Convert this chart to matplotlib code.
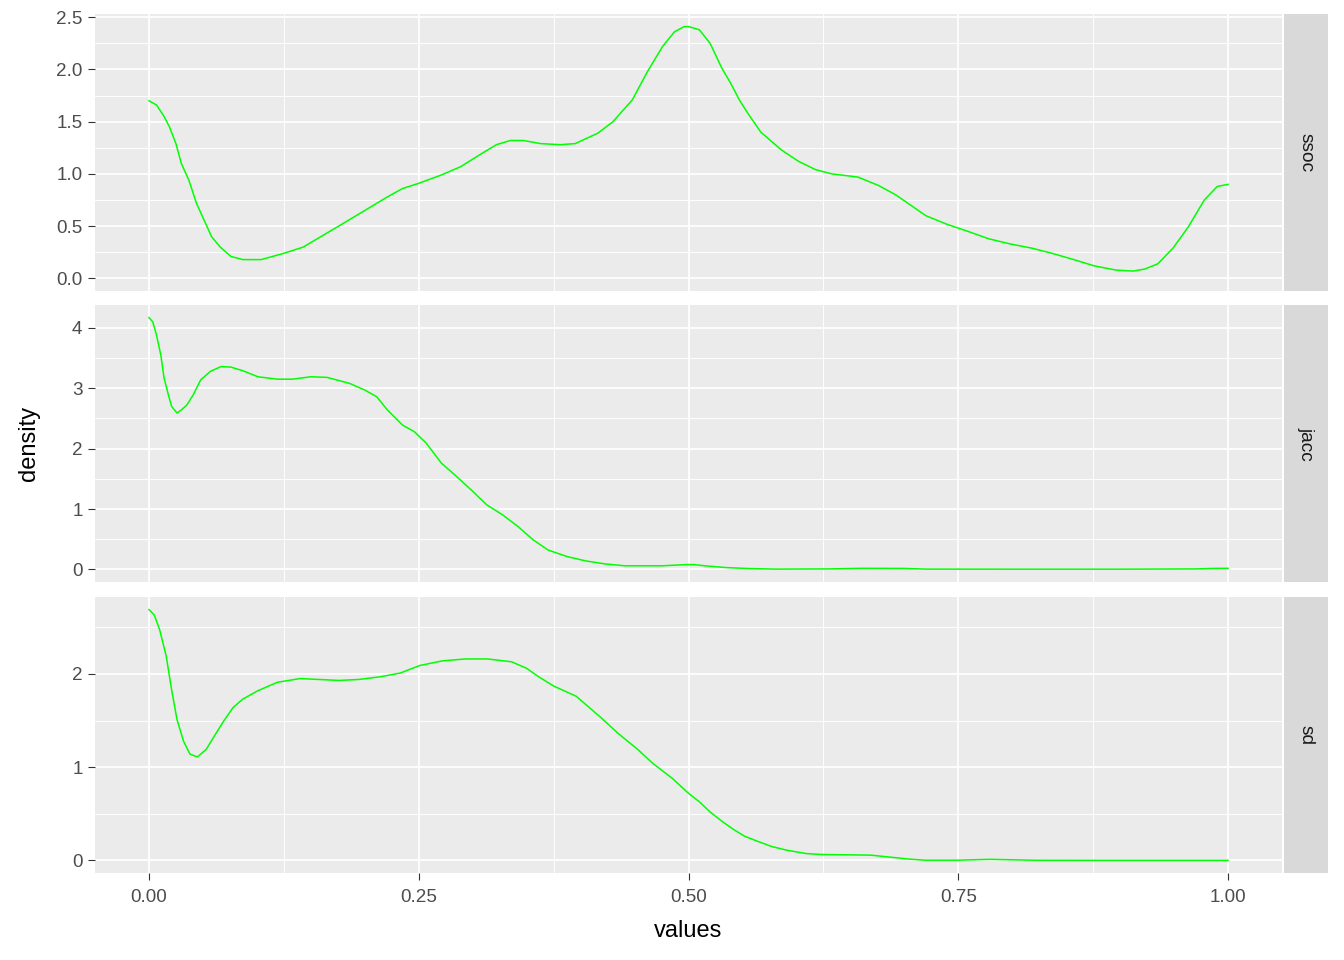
import matplotlib
matplotlib.use("Agg")
import matplotlib.pyplot as plt
from matplotlib.ticker import FixedLocator

plt.rcParams['font.family'] = ['Liberation Sans', 'DejaVu Sans']

# ---------------- data ----------------
panel_names = ["ssoc", "jacc", "sd"]

ssoc_x = [0.000, 0.007, 0.014, 0.019, 0.025, 0.030, 0.037, 0.044, 0.051, 0.058,
          0.066, 0.076, 0.087, 0.104, 0.125, 0.143, 0.161, 0.179, 0.200, 0.221,
          0.235, 0.250, 0.271, 0.289, 0.306, 0.322, 0.335, 0.347, 0.363, 0.381,
          0.395, 0.416, 0.430, 0.448, 0.462, 0.476, 0.487, 0.496, 0.500, 0.510,
          0.520, 0.531, 0.539, 0.547, 0.555, 0.567, 0.586, 0.602, 0.618, 0.633,
          0.657, 0.676, 0.692, 0.706, 0.720, 0.739, 0.759, 0.778, 0.798, 0.818,
          0.837, 0.857, 0.876, 0.896, 0.912, 0.923, 0.935, 0.949, 0.963, 0.978,
          0.990, 1.000]
ssoc_y = [1.70, 1.66, 1.55, 1.45, 1.29, 1.10, 0.94, 0.72, 0.56, 0.40,
          0.30, 0.21, 0.18, 0.18, 0.24, 0.30, 0.41, 0.52, 0.65, 0.78,
          0.86, 0.91, 0.99, 1.07, 1.18, 1.28, 1.32, 1.32, 1.29, 1.28,
          1.29, 1.39, 1.50, 1.71, 1.98, 2.22, 2.36, 2.41, 2.41, 2.38,
          2.25, 2.01, 1.87, 1.71, 1.58, 1.40, 1.23, 1.12, 1.04, 1.00,
          0.97, 0.89, 0.80, 0.70, 0.60, 0.52, 0.45, 0.38, 0.33, 0.29,
          0.24, 0.18, 0.12, 0.08, 0.07, 0.09, 0.14, 0.29, 0.49, 0.75,
          0.88, 0.90]

jacc_x = [0.000, 0.0035, 0.007, 0.011, 0.014, 0.018, 0.021, 0.026, 0.030, 0.035,
          0.041, 0.048, 0.057, 0.067, 0.076, 0.087, 0.101, 0.119, 0.133, 0.150,
          0.165, 0.186, 0.200, 0.211, 0.221, 0.235, 0.246, 0.257, 0.271, 0.285,
          0.299, 0.313, 0.328, 0.342, 0.356, 0.370, 0.388, 0.405, 0.423, 0.441,
          0.476, 0.498, 0.505, 0.515, 0.525, 0.535, 0.555, 0.580, 0.630, 0.660,
          0.700, 0.720, 0.800, 0.900, 0.970, 0.985, 1.000]
jacc_y = [4.17, 4.10, 3.88, 3.55, 3.17, 2.89, 2.70, 2.59, 2.64, 2.72,
          2.89, 3.14, 3.28, 3.36, 3.35, 3.29, 3.19, 3.15, 3.15, 3.19,
          3.18, 3.08, 2.97, 2.86, 2.64, 2.39, 2.28, 2.09, 1.76, 1.54,
          1.31, 1.07, 0.90, 0.71, 0.49, 0.32, 0.21, 0.14, 0.09, 0.06,
          0.06, 0.08, 0.08, 0.06, 0.045, 0.03, 0.015, 0.005, 0.008, 0.018,
          0.016, 0.005, 0.004, 0.004, 0.008, 0.016, 0.018]

sd_x = [0.000, 0.005, 0.010, 0.016, 0.021, 0.026, 0.032, 0.038, 0.045, 0.053,
        0.062, 0.069, 0.078, 0.087, 0.101, 0.119, 0.140, 0.158, 0.176, 0.194,
        0.215, 0.233, 0.251, 0.272, 0.293, 0.314, 0.336, 0.350, 0.361, 0.375,
        0.396, 0.418, 0.435, 0.453, 0.467, 0.485, 0.500, 0.510, 0.520, 0.531,
        0.542, 0.552, 0.563, 0.577, 0.591, 0.609, 0.623, 0.669, 0.683, 0.705,
        0.719, 0.750, 0.779, 0.822, 0.900, 1.000]
sd_y = [2.69, 2.63, 2.47, 2.19, 1.83, 1.51, 1.28, 1.14, 1.11, 1.19,
        1.36, 1.49, 1.64, 1.73, 1.82, 1.91, 1.95, 1.94, 1.93, 1.94,
        1.97, 2.01, 2.09, 2.14, 2.16, 2.16, 2.13, 2.06, 1.97, 1.87,
        1.76, 1.54, 1.36, 1.19, 1.04, 0.88, 0.72, 0.63, 0.52, 0.42,
        0.33, 0.26, 0.21, 0.15, 0.11, 0.074, 0.064, 0.057, 0.04, 0.014,
        0.003, 0.003, 0.012, 0.002, 0.001, 0.001]

x_ticks = [0.0, 0.25, 0.5, 0.75, 1.0]
x_tick_labels = ["0.00", "0.25", "0.50", "0.75", "1.00"]
x_minor = [0.125, 0.375, 0.625, 0.875]

ssoc_ticks = [0.0, 0.5, 1.0, 1.5, 2.0, 2.5]
ssoc_tick_labels = ["0.0", "0.5", "1.0", "1.5", "2.0", "2.5"]
ssoc_minor = [0.25, 0.75, 1.25, 1.75, 2.25]
jacc_ticks = [0, 1, 2, 3, 4]
jacc_tick_labels = ["0", "1", "2", "3", "4"]
jacc_minor = [0.5, 1.5, 2.5, 3.5]
sd_ticks = [0, 1, 2]
sd_tick_labels = ["0", "1", "2"]
sd_minor = [0.5, 1.5, 2.5]

# ---------------- figure ----------------
W, H = 1344, 960
fig = plt.figure(figsize=(W / 100, H / 100), dpi=100)
fig.patch.set_facecolor("white")

panel_bg = "#EBEBEB"
strip_bg = "#D9D9D9"
line_col = "#00FF00"

panels = [
    (ssoc_x, ssoc_y, ssoc_ticks, ssoc_tick_labels, ssoc_minor, 14, 291),
    (jacc_x, jacc_y, jacc_ticks, jacc_tick_labels, jacc_minor, 305, 582),
    (sd_x, sd_y, sd_ticks, sd_tick_labels, sd_minor, 597, 873),
]

left_px, right_px = 95, 1282
strip_l, strip_r = 1284, 1328

for i, (xs, ys, yt, ytl, ymn, top, bot) in enumerate(panels):
    ax = fig.add_axes([left_px / W, 1 - bot / H, (right_px - left_px) / W, (bot - top) / H])
    ax.set_facecolor(panel_bg)
    for s in ax.spines.values():
        s.set_visible(False)
    lo = min(0.0, min(ys))
    hi = max(ys)
    rng = hi - lo
    ax.set_ylim(lo - 0.05 * rng, hi + 0.05 * rng)
    ax.set_xlim(-0.05, 1.05)

    ax.set_xticks(x_ticks)
    ax.xaxis.set_minor_locator(FixedLocator(x_minor))
    ax.set_yticks(yt)
    ax.set_yticklabels(ytl)
    ax.yaxis.set_minor_locator(FixedLocator(ymn))

    ax.grid(which="major", color="white", linewidth=1.25)
    ax.grid(which="minor", color="white", linewidth=0.65)
    ax.set_axisbelow(True)

    ax.tick_params(axis="y", which="major", length=5, width=0.8, color="#333333",
                   labelsize=13.6, labelcolor="#4D4D4D", pad=4)
    ax.tick_params(which="minor", length=0)
    if i == 2:
        ax.set_xticklabels(x_tick_labels)
        ax.tick_params(axis="x", which="major", length=5, width=0.8, color="#333333",
                       labelsize=13.6, labelcolor="#4D4D4D", pad=6.5)
    else:
        ax.tick_params(axis="x", which="major", length=0, labelbottom=False)

    ax.plot(xs, ys, color=line_col, linewidth=1.1, solid_joinstyle="round")

    sax = fig.add_axes([strip_l / W, 1 - bot / H, (strip_r - strip_l) / W, (bot - top) / H])
    sax.set_facecolor(strip_bg)
    sax.set_xticks([])
    sax.set_yticks([])
    for s in sax.spines.values():
        s.set_visible(False)
    sax.text(0.5, 0.5, panel_names[i], rotation=-90, ha="center", va="center",
             fontsize=13.8, color="#1A1A1A", transform=sax.transAxes)

fig.text(688 / W, 1 - 931 / H, "values", ha="center", va="center", fontsize=17, color="black")
fig.text(29 / W, 1 - 443 / H, "density", ha="center", va="center", rotation=90,
         fontsize=17, color="black")

fig.savefig("out.png", dpi=100)
